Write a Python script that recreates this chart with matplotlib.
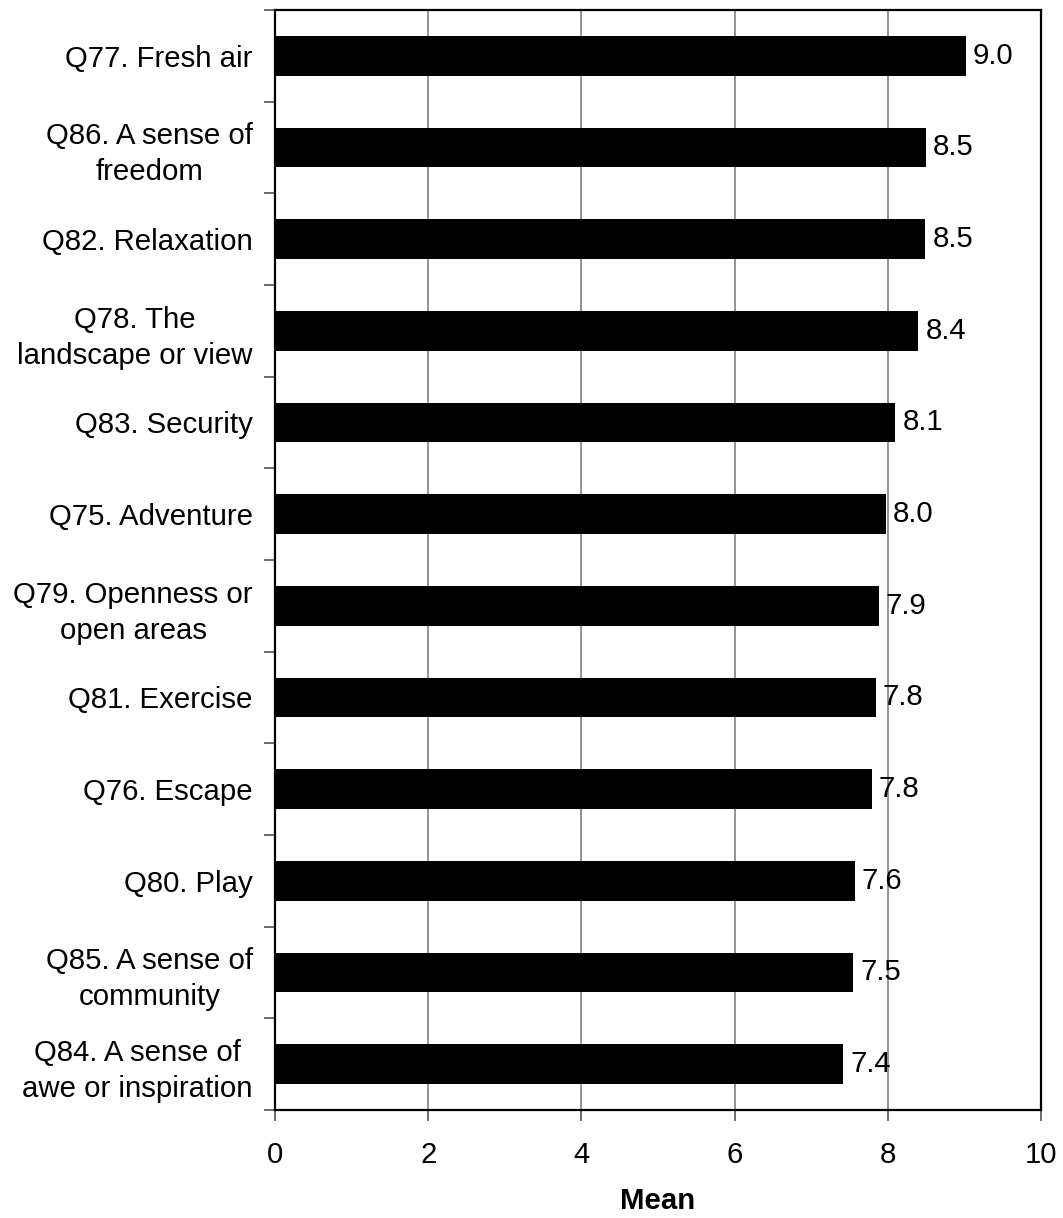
"""Horizontal bar chart of mean ratings for the outdoor-experience items."""

import matplotlib.pyplot as plt
import numpy as np
from matplotlib.ticker import FixedLocator, NullFormatter

plt.rcParams["font.family"] = ["Liberation Sans", "DejaVu Sans"]

# top to bottom, as in the figure
LABELS = [
    "Q77. Fresh air",
    "Q86. A sense of\nfreedom",
    "Q82. Relaxation",
    "Q78. The\nlandscape or view",
    "Q83. Security",
    "Q75. Adventure",
    "Q79. Openness or\nopen areas",
    "Q81. Exercise",
    "Q76. Escape",
    "Q80. Play",
    "Q85. A sense of\ncommunity",
    "Q84. A sense of\nawe or inspiration",
]
MEANS = [9.02, 8.50, 8.49, 8.40, 8.10, 7.98, 7.88, 7.84, 7.79, 7.57, 7.55, 7.42]
X_TICKS = [0, 2, 4, 6, 8, 10]

FS = 21.2


def main() -> None:
    fig = plt.figure(figsize=(10.63, 12.18), dpi=100)
    ax = fig.add_axes([0.2587, 0.0887, 0.7206, 0.9031])

    n = len(LABELS)
    y = np.arange(n)[::-1]
    ax.barh(y, MEANS, height=0.43, color="black", zorder=3)

    for yi, val in zip(y, MEANS):
        ax.annotate(f"{val:.1f}", (val, yi), xytext=(5, 0), textcoords="offset points",
                    va="center", ha="left", fontsize=FS, zorder=4)

    ax.set_xlim(0, 10)
    ax.set_ylim(-0.5, n - 0.5)
    ax.set_xticks(X_TICKS)
    ax.set_xticklabels([str(t) for t in X_TICKS], fontsize=FS)
    ax.set_yticks(y)
    ax.set_yticklabels(LABELS, fontsize=FS, multialignment="center", linespacing=1.35)
    ax.yaxis.set_minor_locator(FixedLocator(np.arange(n + 1) - 0.5))
    ax.yaxis.set_minor_formatter(NullFormatter())
    ax.tick_params(axis="y", which="major", length=0, pad=16)
    ax.tick_params(axis="y", which="minor", length=8, width=1.2, direction="out", color="#555555")
    ax.tick_params(axis="x", length=8, width=1.2, direction="out", pad=14, color="#555555")

    ax.grid(axis="x", color="#808080", linewidth=1.2, zorder=1)
    for spine in ax.spines.values():
        spine.set_linewidth(1.6)
        spine.set_color("black")

    ax.set_xlabel("Mean", fontsize=FS, fontweight="bold", labelpad=13)

    fig.savefig("out.png", dpi=100)
    plt.close(fig)


if __name__ == "__main__":
    main()
